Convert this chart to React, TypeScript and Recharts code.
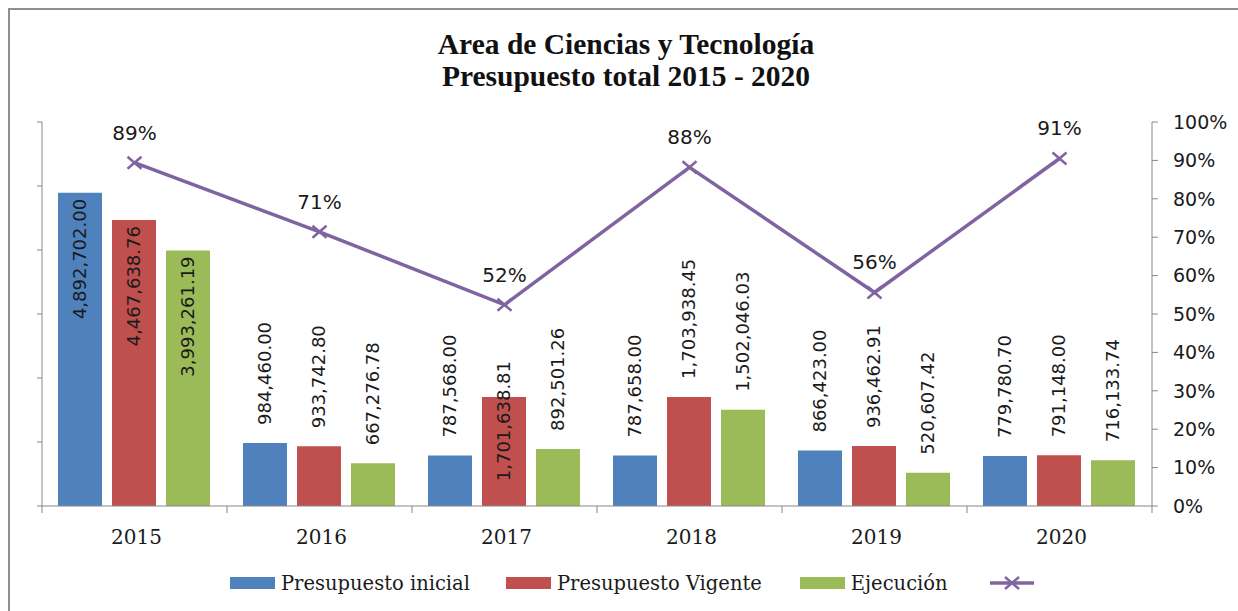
import React from 'react';
import { ComposedChart, Bar, Line, XAxis, YAxis, LabelList } from 'recharts';

const years = ['2015', '2016', '2017', '2018', '2019', '2020'];
const presupuestoInicial = [4892702.0, 984460.0, 787568.0, 787658.0, 866423.0, 779780.7];
const presupuestoVigente = [4467638.76, 933742.8, 1701638.81, 1703938.45, 936462.91, 791148.0];
const ejecucion = [3993261.19, 667276.78, 892501.26, 1502046.03, 520607.42, 716133.74];
const porcentajeEjecucion = [0.894, 0.714, 0.524, 0.882, 0.556, 0.905];
const montoTicks = [0, 1000000, 2000000, 3000000, 4000000, 5000000, 6000000];
const pctTicks = [0, 0.1, 0.2, 0.3, 0.4, 0.5, 0.6, 0.7, 0.8, 0.9, 1];

const seriesNames = ['Presupuesto inicial', 'Presupuesto Vigente', 'Ejecución'];
const titleLines = ['Area de Ciencias y Tecnología', 'Presupuesto total 2015 - 2020'];

// label placement style per series (not data)
const labelPlacement: Record<string, string[]> = {
  inicial: ['inside', 'outside', 'outside', 'outside', 'outside', 'outside'],
  vigente: ['inside', 'outside', 'straddle', 'outside', 'outside', 'outside'],
  ejecucion: ['inside', 'outside', 'outside', 'outside', 'outside', 'outside'],
};

const data = years.map((year, i) => ({
  year,
  inicial: presupuestoInicial[i],
  vigente: presupuestoVigente[i],
  ejecucion: ejecucion[i],
  pct: porcentajeEjecucion[i],
}));

const W = 1238;
const H = 611;
const LEFT_AXIS_W = 42;
const RIGHT_AXIS_W = 86;
const TOP = 122;
const X_AXIS_H = 40;
const BOTTOM = 65;
const PLOT_LEFT = LEFT_AXIS_W;
const PLOT_RIGHT = W - RIGHT_AXIS_W;
const BAND = (PLOT_RIGHT - PLOT_LEFT) / years.length;

const BLUE = '#4F81BD';
const RED = '#C0504D';
const GREEN = '#9BBB59';
const PURPLE = '#8064A2';
const AXIS = '#868686';
const TEXT = '#1a1a1a';

const SANS = '"DejaVu Sans", sans-serif';
const SERIF = '"DejaVu Serif", serif';

const fmt = (v: number) =>
  v.toLocaleString('en-US', { minimumFractionDigits: 2, maximumFractionDigits: 2 });

const makeBarLabel = (key: string) => (props: any) => {
  const { x, y, width, value, index } = props;
  const cx = Number(x) + Number(width) / 2;
  const top = Number(y);
  const place = labelPlacement[key][index];
  let ty = top - 18;
  let anchor: 'start' | 'end' | 'middle' = 'start';
  if (place === 'inside') {
    ty = top + 6;
    anchor = 'end';
  } else if (place === 'straddle') {
    ty = top + 24;
    anchor = 'middle';
  }
  return (
    <text
      x={cx}
      y={ty}
      transform={`rotate(-90 ${cx} ${ty})`}
      textAnchor={anchor}
      dominantBaseline="central"
      fontFamily={SANS}
      fontSize={18}
      fill={TEXT}
    >
      {fmt(Number(value))}
    </text>
  );
};

const PctLabel = (props: any) => {
  const { x, y, value } = props;
  return (
    <text
      x={Number(x)}
      y={Number(y) - 30}
      textAnchor="middle"
      dominantBaseline="central"
      fontFamily={SANS}
      fontSize={20}
      fill={TEXT}
    >
      {`${Math.round(Number(value) * 100)}%`}
    </text>
  );
};

const CrossDot = (props: any) => {
  const { cx, cy, index } = props;
  if (cx == null || cy == null) return <g key={`d${index}`} />;
  return (
    <g key={`d${index}`}>
      <line x1={cx - 7} y1={cy - 6} x2={cx + 7} y2={cy + 6} stroke={PURPLE} strokeWidth={2.5} />
      <line x1={cx - 7} y1={cy + 6} x2={cx + 7} y2={cy - 6} stroke={PURPLE} strokeWidth={2.5} />
    </g>
  );
};

const YearTick = (props: any) => {
  const { x, payload, index } = props;
  const axisY = H - BOTTOM - X_AXIS_H;
  const cx = Number(x);
  const left = cx - BAND / 2;
  const right = cx + BAND / 2;
  return (
    <g>
      <line x1={left} y1={axisY} x2={left} y2={axisY + 7} stroke={AXIS} strokeWidth={1} />
      {index === years.length - 1 && (
        <line x1={right} y1={axisY} x2={right} y2={axisY + 7} stroke={AXIS} strokeWidth={1} />
      )}
      <text
        x={cx + 2}
        y={axisY + 31}
        textAnchor="middle"
        dominantBaseline="central"
        fontFamily={SERIF}
        fontSize={20}
        fill={TEXT}
      >
        {payload.value}
      </text>
    </g>
  );
};

const legendItems = [
  { name: seriesNames[0], color: BLUE },
  { name: seriesNames[1], color: RED },
  { name: seriesNames[2], color: GREEN },
];

export default function App() {
  return (
    <div
      style={{
        position: 'fixed',
        left: 0,
        top: 0,
        width: W,
        height: H,
        overflow: 'hidden',
        background: '#fff',
      }}
    >
      <div
        style={{
          position: 'absolute',
          left: 8,
          top: 8,
          width: 1400,
          height: 800,
          border: '2px solid #8e8e8e',
        }}
      />
      <div
        style={{
          position: 'absolute',
          left: 0,
          top: 28,
          width: 1252,
          textAlign: 'center',
          fontFamily: '"Liberation Serif", serif',
          fontWeight: 'bold',
          fontSize: 29.5,
          lineHeight: '32px',
          color: '#111',
        }}
      >
        <div>{titleLines[0]}</div>
        <div>{titleLines[1]}</div>
      </div>
      <div style={{ position: 'absolute', left: 0, top: 0 }}>
        <ComposedChart
          width={W}
          height={H}
          data={data}
          margin={{ top: TOP, right: 0, bottom: BOTTOM, left: 0 }}
          barCategoryGap={16}
          barGap={10}
        >
          <XAxis
            dataKey="year"
            xAxisId="x"
            height={X_AXIS_H}
            axisLine={{ stroke: AXIS }}
            tickLine={false}
            tick={<YearTick />}
            interval={0}
          />
          <YAxis
            yAxisId="left"
            orientation="left"
            width={LEFT_AXIS_W}
            domain={[0, 6000000]}
            ticks={montoTicks}
            tickFormatter={() => ''}
            axisLine={{ stroke: AXIS }}
            tickLine={{ stroke: AXIS }}
            tickSize={5}
          />
          <YAxis
            yAxisId="right"
            orientation="right"
            width={RIGHT_AXIS_W}
            domain={[0, 1]}
            ticks={pctTicks}
            tickFormatter={(v: number) => `${Math.round(v * 100)}%`}
            axisLine={{ stroke: AXIS }}
            tickLine={{ stroke: AXIS }}
            tickSize={6}
            tickMargin={15}
            tick={{ fontFamily: SANS, fontSize: 19, fill: TEXT }}
          />
          <Bar dataKey="inicial" name={seriesNames[0]} xAxisId="x" yAxisId="left" fill={BLUE} isAnimationActive={false}>
            <LabelList dataKey="inicial" content={makeBarLabel('inicial')} />
          </Bar>
          <Bar dataKey="vigente" name={seriesNames[1]} xAxisId="x" yAxisId="left" fill={RED} isAnimationActive={false}>
            <LabelList dataKey="vigente" content={makeBarLabel('vigente')} />
          </Bar>
          <Bar dataKey="ejecucion" name={seriesNames[2]} xAxisId="x" yAxisId="left" fill={GREEN} isAnimationActive={false}>
            <LabelList dataKey="ejecucion" content={makeBarLabel('ejecucion')} />
          </Bar>
          <Line
            dataKey="pct"
            xAxisId="x"
            yAxisId="right"
            stroke={PURPLE}
            strokeWidth={3.5}
            dot={CrossDot}
            activeDot={false}
            isAnimationActive={false}
          >
            <LabelList dataKey="pct" content={PctLabel} />
          </Line>
        </ComposedChart>
      </div>
      <div
        style={{
          position: 'absolute',
          left: 230,
          top: 570,
          height: 26,
          display: 'flex',
          alignItems: 'center',
          fontFamily: SERIF,
          fontSize: 19.5,
          color: TEXT,
          whiteSpace: 'nowrap',
        }}
      >
        {legendItems.map((it, i) => (
          <div key={it.name} style={{ display: 'flex', alignItems: 'center', marginRight: i === 1 ? 38 : 36 }}>
            <div style={{ width: 45, height: 12, background: it.color, marginRight: 6 }} />
            <span>{it.name}</span>
          </div>
        ))}
        <svg width={44} height={20} style={{ marginLeft: 6 }}>
          <line x1={0} y1={10} x2={44} y2={10} stroke={PURPLE} strokeWidth={3.5} />
          <line x1={15} y1={4} x2={29} y2={16} stroke={PURPLE} strokeWidth={2.5} />
          <line x1={15} y1={16} x2={29} y2={4} stroke={PURPLE} strokeWidth={2.5} />
        </svg>
      </div>
    </div>
  );
}
